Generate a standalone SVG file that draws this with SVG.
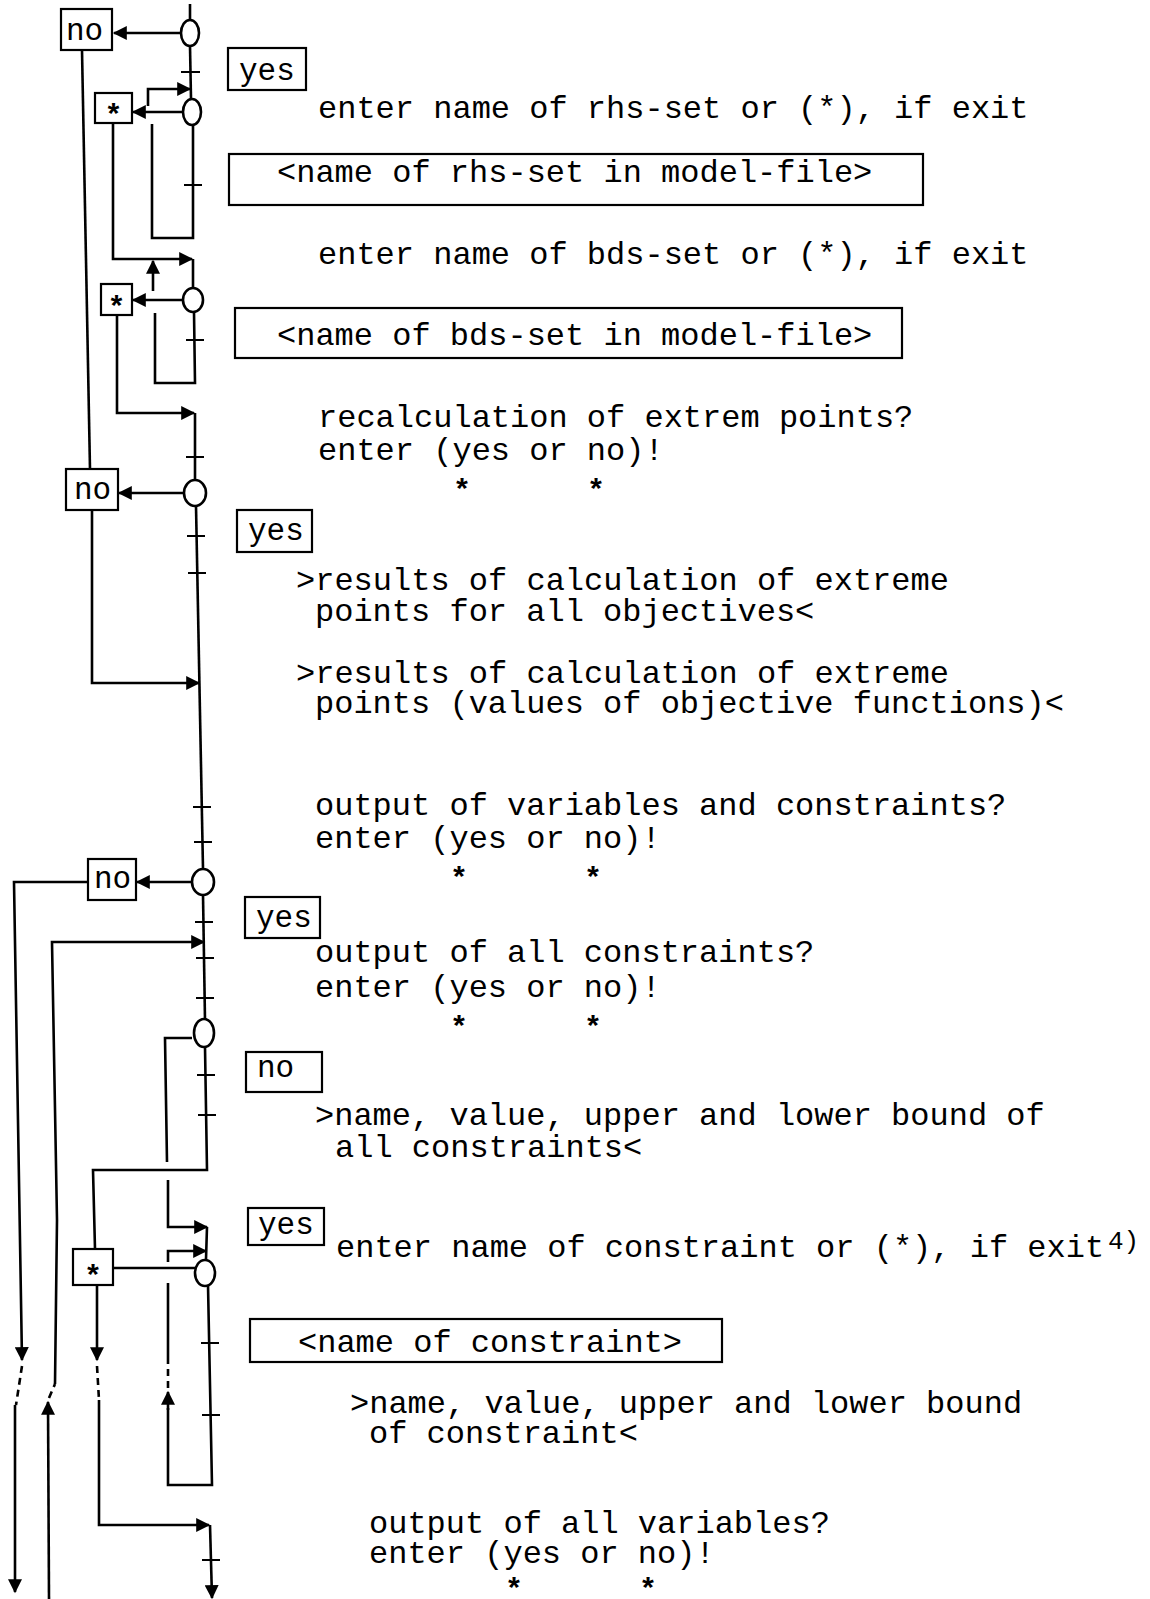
<svg xmlns="http://www.w3.org/2000/svg" width="1150" height="1599" viewBox="0 0 1150 1599">
<style>
.t{font-family:"Liberation Mono","Courier New",monospace;font-size:32px;fill:#000}
.s{font-family:"Liberation Mono","Courier New",monospace;font-size:30px;font-weight:bold;fill:#000}
.b{font-family:"Liberation Mono","Courier New",monospace;font-size:31px;fill:#000}
.sup{font-family:"Liberation Mono","Courier New",monospace;font-size:26px;fill:#000}
.bx{fill:#fff;stroke:#000;stroke-width:2.2}
.dc{fill:#fff;stroke:#000;stroke-width:2.6}
.c{fill:none;stroke:#000;stroke-width:2.6;stroke-linejoin:miter}
.a{marker-end:url(#ah)}
.d{stroke-dasharray:7 5}
.k{fill:none;stroke:#000;stroke-width:2.2}
</style>
<defs>
<marker id="ah" viewBox="0 0 12 12" refX="11" refY="6" markerWidth="15" markerHeight="14" markerUnits="userSpaceOnUse" orient="auto">
<path d="M0,0 L12,6 L0,12 z" fill="#000"/>
</marker>
</defs>
<rect width="1150" height="1599" fill="#fff"/>

<g id="connectors">
<path class="c" d="M190,4 L190,20"/>
<path class="c a" d="M181,33 L114,33"/>
<path class="c" d="M190,46 L191,99"/>
<path class="c a" d="M148,106 L148,89 L190,89"/>
<path class="c a" d="M182,112 L133,112"/>
<path class="c" d="M152,124 L152,238 L193,238 L193,125"/>
<path class="c a" d="M113,123 L113,259 L192,259"/>
<path class="c" d="M193,259 L193,288"/>
<path class="c a" d="M183,300 L133,300"/>
<path class="c a" d="M153,291 L153,261"/>
<path class="c" d="M155,313 L155,383 L195,383 L194,312"/>
<path class="c a" d="M117,315 L117,413 L194,413"/>
<path class="c" d="M195,413 L195,480"/>
<path class="c a" d="M184,493 L119,493"/>
<path class="c" d="M82,50 L90,469"/>
<path class="c" d="M196,506 L203,869"/>
<path class="c a" d="M92,510 L92,683 L199,683"/>
<path class="c a" d="M192,882 L137,882"/>
<path class="c a" d="M88,882 L14,882 L22,1360"/>
<path class="c d" d="M22,1366 L16,1405"/>
<path class="c a" d="M15,1405 L15,1592"/>
<path class="c a" d="M49,1599 L48,1402"/>
<path class="c d" d="M49,1398 L55,1384"/>
<path class="c a" d="M55,1384 L57,1220 L52,942 L204,942"/>
<path class="c" d="M203,895 L205,1020"/>
<path class="c" d="M192,1038 L165,1038 L167,1162"/>
<path class="c a" d="M168,1180 L168,1227 L207,1227"/>
<path class="c" d="M205,1047 L207,1170 L93,1170 L95,1249"/>
<path class="c" d="M207,1227 L206,1259"/>
<path class="c" d="M113,1268 L195,1268"/>
<path class="c a" d="M168,1262 L168,1251 L206,1251"/>
<path class="c" d="M208,1285 L212,1485 L168,1485 L168,1408"/>
<path class="c a" d="M168,1410 L168,1392"/>
<path class="c d" d="M168,1388 L168,1362"/>
<path class="c" d="M168,1362 L168,1283"/>
<path class="c a" d="M97,1285 L97,1360"/>
<path class="c d" d="M97,1366 L99,1400"/>
<path class="c a" d="M99,1400 L99,1525 L209,1525"/>
<path class="c a" d="M210,1525 L212,1598"/>
<g id="ticks">
<path class="k" d="M181,72 L200,72 M184,185 L202,185 M186,340 L204,340 M186,457 L204,457 M187,536 L205,536 M188,573 L206,573 M193,807 L211,807 M194,842 L212,842 M195,922 L213,922 M196,958 L214,958 M196,998 L214,998 M197,1075 L215,1075 M198,1115 L216,1115 M201,1343 L219,1343 M202,1415 L220,1415 M202,1560 L220,1560"/>
</g>
</g>

<g id="d1"><ellipse class="dc" cx="190" cy="33" rx="9" ry="13"/></g>
<g id="d2"><ellipse class="dc" cx="192" cy="112" rx="9" ry="13"/></g>
<g id="d3"><ellipse class="dc" cx="193" cy="300" rx="10" ry="12"/></g>
<g id="d4"><ellipse class="dc" cx="195" cy="493" rx="11" ry="13"/></g>
<g id="d5"><ellipse class="dc" cx="203" cy="882" rx="11" ry="13"/></g>
<g id="d6"><ellipse class="dc" cx="204" cy="1033" rx="10" ry="14"/></g>
<g id="d7"><ellipse class="dc" cx="205" cy="1273" rx="10" ry="13"/></g>

<g id="no1"><rect class="bx" x="61" y="9" width="51" height="41"/><text class="b" x="66" y="40">no</text></g>
<g id="star1"><rect class="bx" x="95" y="93" width="37" height="30"/><text class="s" x="113.5" y="125" text-anchor="middle">*</text></g>
<g id="star2"><rect class="bx" x="101" y="284" width="31" height="31"/><text class="s" x="116.5" y="317" text-anchor="middle">*</text></g>
<g id="no2"><rect class="bx" x="66" y="469" width="52" height="41"/><text class="b" x="74" y="499">no</text></g>
<g id="no3"><rect class="bx" x="88" y="859" width="48" height="41"/><text class="b" x="94" y="888">no</text></g>
<g id="star3"><rect class="bx" x="73" y="1249" width="40" height="36"/><text class="s" x="93" y="1286" text-anchor="middle">*</text></g>

<g id="yes1"><rect class="bx" x="228" y="48" width="78" height="42"/><text class="b" x="239" y="80">yes</text></g>
<g id="p1"><text class="t" x="318" y="118">enter name of rhs-set or (*), if exit</text></g>
<g id="in1"><rect class="bx" x="229" y="154" width="694" height="51"/><text class="t" x="277" y="182">&lt;name of rhs-set in model-file&gt;</text></g>
<g id="p2"><text class="t" x="318" y="264">enter name of bds-set or (*), if exit</text></g>
<g id="in2"><rect class="bx" x="235" y="308" width="667" height="50"/><text class="t" x="277" y="345">&lt;name of bds-set in model-file&gt;</text></g>
<g id="p3"><text class="t" x="318" y="427">recalculation of extrem points?</text><text class="t" x="318" y="460">enter (yes or no)!</text><text class="s" x="462" y="500" text-anchor="middle">*</text><text class="s" x="596" y="500" text-anchor="middle">*</text></g>
<g id="yes2"><rect class="bx" x="237" y="510" width="75" height="42"/><text class="b" x="248" y="540">yes</text></g>
<g id="o1"><text class="t" x="296" y="590">&gt;results of calculation of extreme</text><text class="t" x="315" y="621">points for all objectives&lt;</text></g>
<g id="o2"><text class="t" x="296" y="683">&gt;results of calculation of extreme</text><text class="t" x="315" y="713">points (values of objective functions)&lt;</text></g>
<g id="p4"><text class="t" x="315" y="815">output of variables and constraints?</text><text class="t" x="315" y="848">enter (yes or no)!</text><text class="s" x="459" y="888" text-anchor="middle">*</text><text class="s" x="593" y="888" text-anchor="middle">*</text></g>
<g id="yes3"><rect class="bx" x="245" y="897" width="75" height="41"/><text class="b" x="256" y="927">yes</text></g>
<g id="p5"><text class="t" x="315" y="962">output of all constraints?</text><text class="t" x="315" y="997">enter (yes or no)!</text><text class="s" x="459" y="1037" text-anchor="middle">*</text><text class="s" x="593" y="1037" text-anchor="middle">*</text></g>
<g id="no4"><rect class="bx" x="246" y="1052" width="76" height="40"/><text class="b" x="257" y="1077">no</text></g>
<g id="o3"><text class="t" x="315" y="1125">&gt;name, value, upper and lower bound of</text><text class="t" x="335" y="1157">all constraints&lt;</text></g>
<g id="yes4"><rect class="bx" x="248" y="1208" width="76" height="37"/><text class="b" x="258" y="1234">yes</text></g>
<g id="p6"><text class="t" x="336" y="1257">enter name of constraint or (*), if exit</text><text class="sup" x="1108" y="1249">4)</text></g>
<g id="in3"><rect class="bx" x="250" y="1319" width="472" height="43"/><text class="t" x="298" y="1352">&lt;name of constraint&gt;</text></g>
<g id="o4"><text class="t" x="350" y="1413">&gt;name, value, upper and lower bound</text><text class="t" x="369" y="1443">of constraint&lt;</text></g>
<g id="p7"><text class="t" x="369" y="1533">output of all variables?</text><text class="t" x="369" y="1563">enter (yes or no)!</text><text class="s" x="514" y="1599" text-anchor="middle">*</text><text class="s" x="648" y="1599" text-anchor="middle">*</text></g>
</svg>
